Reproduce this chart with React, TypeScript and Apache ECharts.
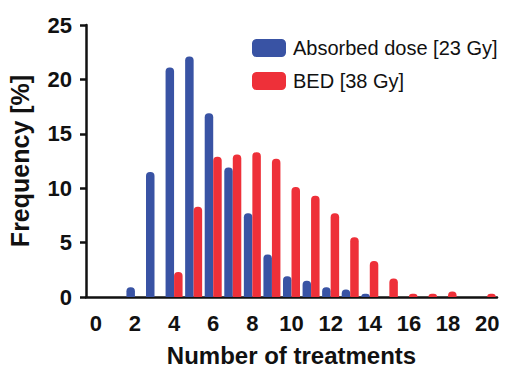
import React, { useEffect, useRef } from "react";
import * as echarts from "echarts";

const categories = Array.from({ length: 21 }, (_, i) => String(i));
const absorbedDose = [0, 0, 0.9, 11.5, 21.1, 22.1, 16.9, 11.9, 7.7, 3.9, 1.9, 1.5, 0.9, 0.7, 0.3, 0, 0, 0, 0, 0, 0];
const bedDose = [0, 0, 0, 0, 2.3, 8.3, 12.9, 13.1, 13.3, 12.7, 10.1, 9.3, 7.7, 5.5, 3.3, 1.7, 0.3, 0.3, 0.5, 0, 0.3];
const seriesNames = ["Absorbed dose [23 Gy]", "BED [38 Gy]"];

const FONT = "'Liberation Sans', Arial, Helvetica, sans-serif";

export default function App() {
  const ref = useRef<HTMLDivElement>(null);
  useEffect(() => {
    if (!ref.current) return;
    const chart = echarts.init(ref.current, undefined, { renderer: "svg" });
    chart.setOption({
      animation: false,
      backgroundColor: "#ffffff",
      grid: { left: 86, right: 27, top: 25, bottom: 72, containLabel: false, outerBoundsMode: "none" },
      legend: {
        orient: "vertical",
        left: 247,
        top: 33,
        itemWidth: 34,
        itemHeight: 18,
        itemGap: 13,
        icon: "roundRect",
        textStyle: { fontFamily: FONT, fontSize: 20, color: "#111", padding: [0, 0, 0, 2] },
        data: seriesNames,
      },
      xAxis: {
        type: "category",
        data: categories,
        name: "Number of treatments",
        nameLocation: "middle",
        nameGap: 47,
        nameTextStyle: { fontFamily: FONT, fontSize: 24, lineHeight: 22, fontWeight: "bold", color: "#111" },
        axisLine: { lineStyle: { color: "#111", width: 2.5 } },
        axisTick: { alignWithLabel: true, interval: 1, length: 6, lineStyle: { color: "#111", width: 2.5 } },
        axisLabel: { interval: 1, margin: 15, fontFamily: FONT, fontSize: 22, fontWeight: "bold", color: "#111" },
      },
      yAxis: {
        type: "value",
        min: 0,
        max: 25,
        interval: 5,
        name: "Frequency [%]",
        nameLocation: "middle",
        nameGap: 54,
        nameTextStyle: { fontFamily: FONT, fontSize: 25, fontWeight: "bold", color: "#111" },
        splitLine: { show: false },
        axisLine: { show: true, lineStyle: { color: "#111", width: 2.5 } },
        axisTick: { show: true, length: 6, lineStyle: { color: "#111", width: 2.5 } },
        axisLabel: { margin: 14, fontFamily: FONT, fontSize: 22, fontWeight: "bold", color: "#111" },
      },
      series: [
        {
          name: seriesNames[0],
          type: "bar",
          data: absorbedDose,
          barWidth: 8.5,
          barGap: "0%",
          itemStyle: { color: "#3953a4", borderRadius: [4, 4, 0, 0] },
        },
        {
          name: seriesNames[1],
          type: "bar",
          data: bedDose,
          barWidth: 8.5,
          barGap: "0%",
          itemStyle: { color: "#ee3039", borderRadius: [4, 4, 0, 0] },
        },
      ],
    });
    return () => chart.dispose();
  }, []);
  return <div ref={ref} style={{ width: 524, height: 369, position: "absolute", left: 0, top: 0 }} />;
}
